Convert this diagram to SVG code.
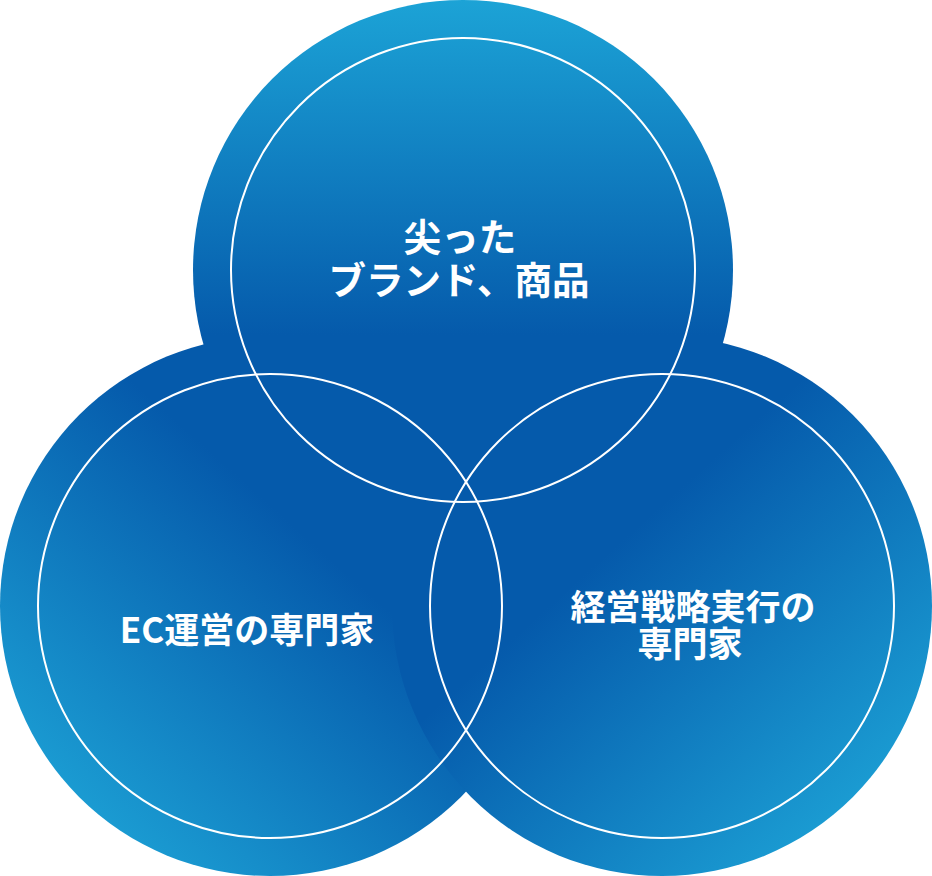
<svg xmlns="http://www.w3.org/2000/svg" width="932" height="876" viewBox="0 0 932 876">
  <defs>
    <linearGradient id="gTop" x1="0.5" y1="0" x2="0.5" y2="0.62">
      <stop offset="0" stop-color="#1ca3d6"/>
      <stop offset="1" stop-color="#055aab"/>
    </linearGradient>
    <linearGradient id="gLeft" x1="0.1" y1="1" x2="0.62" y2="0.42">
      <stop offset="0" stop-color="#1fa9da"/>
      <stop offset="1" stop-color="#055aab"/>
    </linearGradient>
    <linearGradient id="gRight" x1="0.9" y1="1" x2="0.38" y2="0.42">
      <stop offset="0" stop-color="#1fa9da"/>
      <stop offset="1" stop-color="#055aab"/>
    </linearGradient>
  </defs>
  <style>
    .ring { fill: none; stroke: #ffffff; stroke-width: 2; }
    .label { fill: #ffffff; font-family: "Noto Sans CJK JP", "Noto Sans", sans-serif; font-weight: 700; font-size: 35px; text-anchor: middle; }
    .big { font-size: 37.5px; }
  </style>
  <rect width="932" height="876" fill="#ffffff"/>
  <g id="fills">
    <circle cx="463" cy="270" r="270" fill="url(#gTop)"/>
    <circle cx="270" cy="606" r="270" fill="url(#gLeft)"/>
    <circle cx="662" cy="606" r="270" fill="url(#gRight)"/>
  </g>
  <g id="node-top">
    <circle class="ring" cx="463" cy="270" r="232"/>
    <text class="label big" x="460" y="251">尖った</text>
    <text class="label big" x="459" y="294">ブランド、商品</text>
  </g>
  <g id="node-left">
    <circle class="ring" cx="270" cy="606" r="232"/>
    <text class="label" x="247" y="643">EC運営の専門家</text>
  </g>
  <g id="node-right">
    <circle class="ring" cx="662" cy="606" r="232"/>
    <text class="label" x="693" y="620">経営戦略実行の</text>
    <text class="label" x="690" y="657">専門家</text>
  </g>
  <g id="connectors"/>
</svg>
